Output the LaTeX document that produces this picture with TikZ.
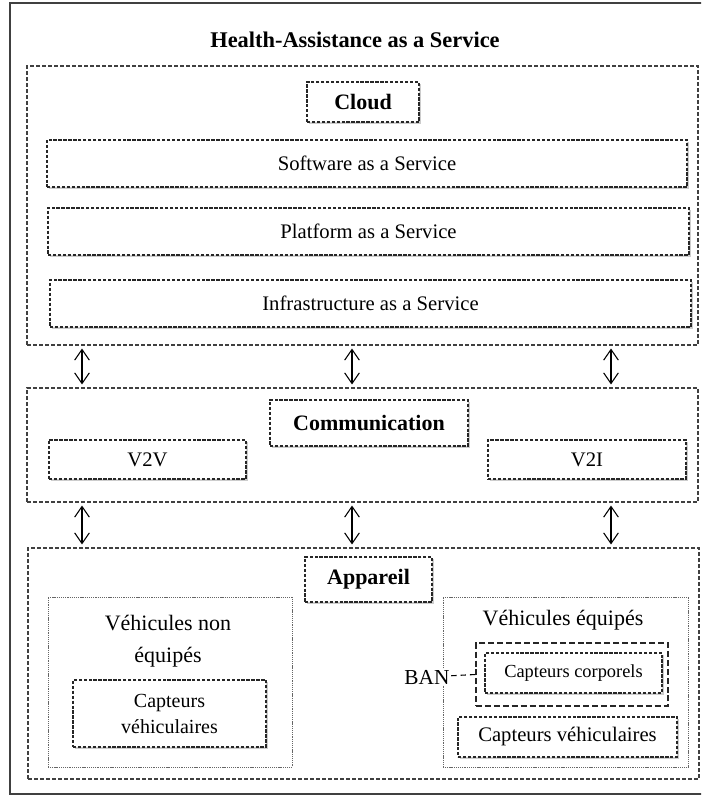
\documentclass[tikz,border=0pt]{standalone}
\usepackage{fontspec}
\setmainfont{Liberation Serif}
\usetikzlibrary{shapes,shadows,arrows,positioning,calc,arrows.meta}

\begin{document}
\begin{tikzpicture}[x=0.75pt, y=-0.75pt, >={Straight Barb[length=8pt,width=11pt]}, semithick]
\tikzstyle{layer} = [rectangle, draw=black!75, line width=0.8pt, dash pattern=on 3pt off 1.5pt, inner sep=0pt]
\tikzstyle{block} = [rectangle, draw=black!85, fill=white, line width=1pt, dash pattern=on 2.5pt off 1.2pt, inner sep=0pt, align=center, font=\fontsize{15.5}{19.5}\selectfont, drop shadow={opacity=0.4, shadow xshift=1.3pt, shadow yshift=-1.8pt}]
\tikzstyle{head} = [block, font=\fontsize{16.5}{19}\selectfont\bfseries]
\tikzstyle{zone} = [rectangle, draw=black!60, line width=0.6pt, dash pattern=on 0.8pt off 0.6pt, inner sep=0pt]
\tikzstyle{ztext} = [align=center, font=\fontsize{16.5}{24}\selectfont]
\tikzstyle{line} = [draw, <->, line width=0.8pt, shorten <=2.25pt, shorten >=2.25pt]
\useasboundingbox (0,0) rectangle (701,795);
\clip (0,0) rectangle (701,795);
\draw[line width=1.3pt, black!75] (10,3) rectangle (710,794);
\node[font=\fontsize{16.8}{19}\selectfont\bfseries] at (355,40) (A0){Health-Assistance as a Service};
%% cloud
\node[layer, minimum width=503.25pt, minimum height=209.25pt] at (362.5,205.5) (A1){};
\node[head, minimum width=84pt, minimum height=30pt] at (363,102) (A2){Cloud};
\node[block, minimum width=480pt, minimum height=35.25pt] at (367,163.5) (A3){Software as a Service};
\node[block, minimum width=480.75pt, minimum height=35.25pt] at (368.5,231.5) (A4){Platform as a Service};
\node[block, minimum width=480.75pt, minimum height=35.25pt] at (370.5,303.5) (A5){Infrastructure as a Service};
%% communication
\node[layer, minimum width=503.25pt, minimum height=85.5pt] at (362.5,445) (A6){};
\node[head, minimum width=148.5pt, minimum height=34.5pt] at (369,423) (A7){Communication};
\node[block, minimum width=147.75pt, minimum height=29.25pt] at (147.5,459.5) (A8){V2V};
\node[block, minimum width=148.5pt, minimum height=29.25pt] at (587,459.5) (A9){V2I};
%% appareil
\node[layer, minimum width=503.25pt, minimum height=173.25pt] at (363.5,663.5) (A10){};
\node[head, minimum width=95.25pt, minimum height=33.75pt] at (368.5,579.5) (A11){Appareil};
\node[zone, minimum width=183pt, minimum height=127.5pt] at (170,682) (A12){};
\node[ztext] at (168,641) (A13){Véhicules non\\équipés};
\node[block, font=\fontsize{15}{19.5}\selectfont, minimum width=144.75pt, minimum height=50.25pt] at (169.5,713.5) (A14){Capteurs\\véhiculaires};
\node[zone, minimum width=183.75pt, minimum height=127.5pt] at (565.5,682) (A15){};
\node[ztext] at (563,620) (A16){Véhicules équipés};
\node[rectangle, draw=black!85, line width=1pt, dash pattern=on 4.5pt off 2.2pt, minimum width=144pt, minimum height=47.25pt] at (572,674.5) (A17){};
\node[block, font=\fontsize{13.8}{15}\selectfont, minimum width=132.75pt, minimum height=30pt] at (573.5,673) (A18){Capteurs corporels};
\node[block, minimum width=164.25pt, minimum height=30pt] at (567.5,737) (A19){Capteurs véhiculaires};
\node[fill=white, inner sep=1pt, font=\fontsize{16}{18}\selectfont] at (427,677) (A20){BAN};
\coordinate (P1) at (82,0);
\coordinate (P2) at (352,0);
\coordinate (P3) at (611,0);
%% arrows
\draw[line] (P1 |- A1.south) -- (P1 |- A6.north);
\draw[line] (P2 |- A1.south) -- (P2 |- A6.north);
\draw[line] (P3 |- A1.south) -- (P3 |- A6.north);
\draw[line] (P1 |- A6.south) -- (P1 |- A10.north);
\draw[line] (P2 |- A6.south) -- (P2 |- A10.north);
\draw[line] (P3 |- A6.south) -- (P3 |- A10.north);
\draw[line width=0.8pt, dash pattern=on 4pt off 3pt] (A20) -- (A17.west);
\end{tikzpicture}
\end{document}
